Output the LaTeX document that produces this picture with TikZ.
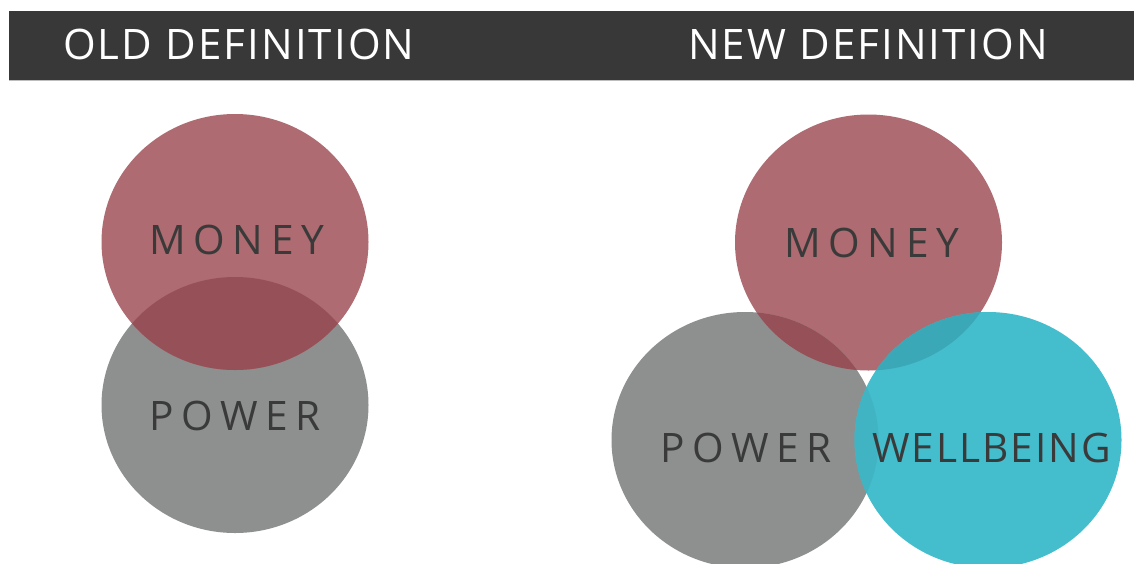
\documentclass[tikz,border=0pt]{standalone}
\usepackage{fontspec}
\setmainfont{Open Sans}
\definecolor{barcol}{HTML}{383838}
\definecolor{barline}{HTML}{BDBDBD}
\definecolor{moneycol}{HTML}{AE6B71}
\definecolor{powercol}{HTML}{8E8F8F}
\definecolor{wellcol}{HTML}{44BDCC}
\definecolor{mpcol}{HTML}{965158}
\definecolor{mwcol}{HTML}{3BA8B8}
\definecolor{pwcol}{HTML}{40B4C3}
\definecolor{labelcol}{HTML}{3A3A3A}
\tikzset{
  headtext/.style={anchor=base west, inner sep=0pt, text=white,
    font=\fontsize{42}{42}\selectfont\addfontfeature{LetterSpace=5}},
  spacedlabel/.style={anchor=base west, inner sep=0pt, text=labelcol,
    font=\fontsize{40.6}{40.6}\selectfont\addfontfeature{LetterSpace=19}},
  plainlabel/.style={anchor=base west, inner sep=0pt, text=labelcol,
    font=\fontsize{40.6}{40.6}\selectfont\addfontfeature{LetterSpace=5}},
}
\begin{document}
\begin{tikzpicture}[x=1pt,y=-1pt]
\useasboundingbox (0,0) rectangle (1134,563);
\fill[white] (0,0) rectangle (1134,563);

% title bar
\fill[barcol] (9,11) rectangle (1134,80);
\draw[barline, line width=1.2pt] (9,80.6) -- (1134,80.6);
\node[headtext] (oldhead) at (63,59) {OLD DEFINITION};
\node[headtext] (newhead) at (688,59) {NEW DEFINITION};

% ---- old definition: money over power
\fill[powercol] (235,405) ellipse [x radius=133.5pt, y radius=128pt];
\fill[moneycol] (235,242) ellipse [x radius=133.5pt, y radius=128pt];
\begin{scope}
  \clip (235,405) ellipse [x radius=133.5pt, y radius=128pt];
  \fill[mpcol] (235,242) ellipse [x radius=133.5pt, y radius=128pt];
\end{scope}
\node[spacedlabel] (moneyold) at (149,254) {MONEY};
\node[spacedlabel] (powerold) at (149,430) {POWER};

% ---- new definition: money, power and wellbeing
\fill[moneycol] (868.5,242.5) ellipse [x radius=133.5pt, y radius=128pt];
\fill[powercol] (745,440) ellipse [x radius=133.5pt, y radius=128pt];
\fill[wellcol] (988,440) ellipse [x radius=133.5pt, y radius=128pt];
\begin{scope}
  \clip (868.5,242.5) ellipse [x radius=133.5pt, y radius=128pt];
  \fill[mpcol] (745,440) ellipse [x radius=133.5pt, y radius=128pt];
  \fill[mwcol] (988,440) ellipse [x radius=133.5pt, y radius=128pt];
\end{scope}
\begin{scope}
  \clip (745,440) ellipse [x radius=133.5pt, y radius=128pt];
  \fill[pwcol] (988,440) ellipse [x radius=133.5pt, y radius=128pt];
\end{scope}
\node[spacedlabel] (moneynew) at (784,257) {MONEY};
\node[spacedlabel] (powernew) at (660,462) {POWER};
\node[plainlabel] (wellnew) at (872,462) {WELLBEING};
\end{tikzpicture}
\end{document}
